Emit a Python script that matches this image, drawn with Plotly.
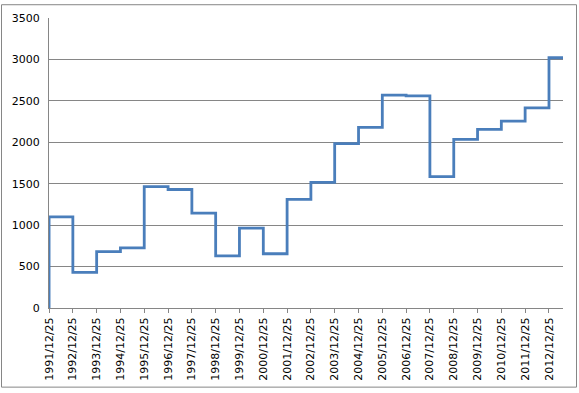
import plotly.graph_objects as go

# Step data: value holds from each date until the next date
dates = ["1991-12-25", "1991-12-26", "1992-12-25", "1993-12-25", "1994-12-25",
         "1995-12-25", "1996-12-25", "1997-12-25", "1998-12-25", "1999-12-25",
         "2000-12-25", "2001-12-25", "2002-12-25", "2003-12-25", "2004-12-25",
         "2005-12-25", "2006-12-25", "2007-12-25", "2008-12-25", "2009-12-25",
         "2010-12-25", "2011-12-25", "2012-12-25", "2013-07-28"]
values = [0, 1100, 430, 680, 725,
          1465, 1430, 1145, 630, 965,
          655, 1310, 1515, 1985, 2180,
          2570, 2560, 1585, 2035, 2155,
          2255, 2415, 3020, 3020]

tick_dates = [f"{y}-12-25" for y in range(1991, 2013)]
tick_labels = [f"{y}/12/25" for y in range(1991, 2013)]
x_range = ["1991-12-25", "2013-07-28"]

W, H = 579, 393
ml, mr, mt, mb = 49, 16, 15, 83
pw, ph = W - ml - mr, H - mt - mb

fig = go.Figure()
fig.add_trace(go.Scatter(
    x=dates, y=values, mode="lines",
    line=dict(color="#4a7ebb", width=2.8, shape="hv"),
    hoverinfo="x+y", showlegend=False,
))

grid = "#868686"
fig.update_layout(
    width=W, height=H,
    margin=dict(l=ml, r=mr, t=mt, b=mb, pad=0),
    paper_bgcolor="white", plot_bgcolor="white",
    font=dict(family="DejaVu Sans", size=11, color="#000000"),
    xaxis=dict(
        type="date", range=x_range,
        tickmode="array", tickvals=tick_dates, ticktext=tick_labels,
        tickangle=-90, ticks="outside", ticklen=4, tickcolor=grid, tickwidth=1,
        showgrid=False, showline=True, linecolor=grid, linewidth=1,
        zeroline=False,
    ),
    yaxis=dict(
        range=[0, 3500], dtick=500, tick0=0,
        showgrid=True, gridcolor=grid, gridwidth=1,
        showline=True, linecolor=grid, linewidth=1,
        ticks="", zeroline=False, ticklabelstandoff=6,
    ),
    shapes=[dict(
        type="rect", xref="paper", yref="paper",
        x0=(1.5 - ml) / pw, x1=(576.5 - ml) / pw,
        y0=(mt + ph - 390.5) / ph, y1=(mt + ph - 1.5) / ph,
        line=dict(color="#868686", width=1), fillcolor="rgba(0,0,0,0)",
        layer="below",
    )],
)

fig.write_html("out.html")
